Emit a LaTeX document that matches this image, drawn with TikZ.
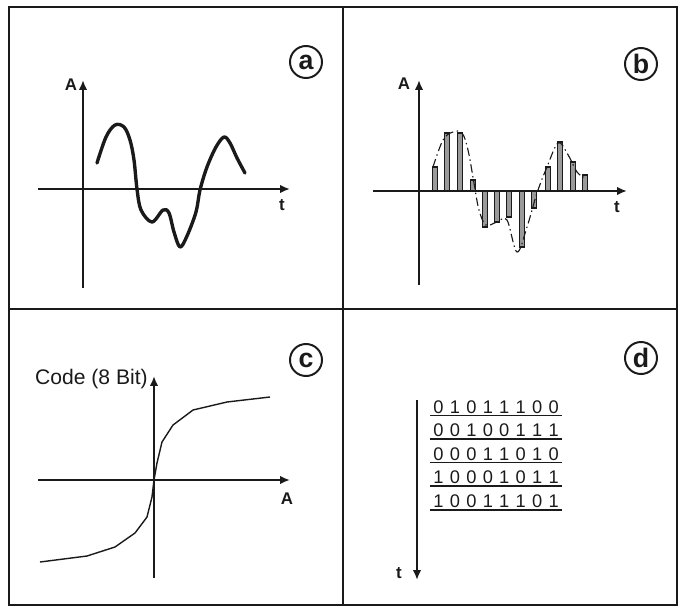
\documentclass[tikz,border=0pt]{standalone}
\usepackage{fontspec}
\setmainfont{Liberation Sans}
\usepackage{tikz}
\usetikzlibrary{arrows.meta,positioning,calc}
\definecolor{clInk}{HTML}{1A1A1A}
\definecolor{clBar}{HTML}{9A9A9A}
\tikzset{
  frame/.style={draw=clInk, line width=0.9pt},
  axis/.style={-{Latex[length=7pt,width=6pt]}, line width=2pt, draw=clInk},
  signal/.style={line width=2.4pt, draw=clInk, line join=round, line cap=round},
  envelope/.style={line width=0.8pt, draw=clInk, dash pattern=on 6pt off 2.5pt on 1pt off 2.5pt},
  sample/.style={draw=clInk, line width=0.8pt, fill=clBar},
  transfer/.style={line width=1pt, draw=clInk, line join=round},
  axislabel/.style={font=\bfseries\fontsize{12}{14}\selectfont, text=clInk, inner sep=0pt},
  tag/.style={circle, draw=clInk, line width=1.4pt, minimum size=0.8cm, inner sep=0pt,
              font=\bfseries\fontsize{19}{20}\selectfont, text=clInk},
  bitrow/.style={anchor=base west, inner sep=0pt, font=\fontsize{13}{15}\selectfont, text=clInk},
  uline/.style={line width=1.2pt, draw=clInk},
}

\begin{document}
\begin{tikzpicture}[x=0.025cm, y=-0.025cm]
  \useasboundingbox (0,0) rectangle (680,608);
  % panel frame
  \draw[frame] (9,7) rectangle (677,605);
  \draw[frame] (343,7) -- (343,605);
  \draw[frame] (9,309) -- (677,309);

  % (a) analog signal
  \draw[axis] (83,288) -- (83,80);
  \draw[axis] (38,189) -- (290,189);
  \node[axislabel] (aA) at (71,85) {A};
  \node[axislabel] (aT) at (282,205) {t};
  \node[tag] (tagA) at (306,62) {a};
  \draw[signal] plot[smooth, tension=0.55] coordinates {(97,163) (106,137) (115,125) (124,127) (130,140)
    (134,160) (137,189) (141,210) (152,222) (163,210) (169,213) (174,232) (180,247) (187,236)
    (196,212) (200,190) (207,167) (216,147) (224,137) (230,143) (237,158) (245,173)};

  % (b) sampled signal
  \draw[axis] (419,285) -- (419,80);
  \node[axislabel] (bA) at (404,84) {A};
  \node[axislabel] (bT) at (617,207) {t};
  \node[tag] (tagB) at (641,64) {b};
  \foreach \x/\h in {435/167,447/133,460/133,473/180,485/227,497/222,509/217,522/247,
                     534/208,548/167,560/142,573/162,585/175}
    \draw[sample] (\x-2.5,191) rectangle (\x+2.5,\h);
  \draw[axis] (373,191) -- (627,191);
  \draw[envelope] plot[smooth, tension=0.6] coordinates {(433,167) (443,140) (453,132) (462,133)
    (468,150) (474,183) (479,210) (486,225) (497,222) (507,220) (517,252) (527,227)
    (537,193) (547,167) (558,143) (567,153) (577,172) (584,177)};

  % (c) quantizer characteristic
  \draw[axis] (154,578) -- (154,376);
  \draw[axis] (38,480) -- (290,480);
  \node[anchor=east, inner sep=0pt, font=\fontsize{15}{17}\selectfont, text=clInk] (cCode) at (148,379) {Code (8 Bit)};
  \node[axislabel] (cA) at (287,499) {A};
  \node[tag] (tagC) at (306,360) {c};
  \draw[transfer] (40,562) -- (87,556) -- (115,547) -- (135,533) -- (147,517) -- (152,497)
    -- (154,480) -- (157,463) -- (162,442) -- (173,425) -- (193,410) -- (227,402) -- (270,397);

  % (d) code words over time
  \draw[axis] (417,400) -- (417,580);
  \node[axislabel] (dT) at (399,573) {t};
  \node[tag] (tagD) at (641,358) {d};
  \foreach \bits [count=\r] in {{0,1,0,1,1,1,0,0},{0,0,1,0,0,1,1,1},{0,0,0,1,1,0,1,0},
                                {1,0,0,0,1,0,1,1},{1,0,0,1,1,1,0,1}} {
    \node[bitrow] (row\r) at (430,389.5+23.6*\r) {\foreach \c in \bits {\makebox[11.7pt]{\c}}};
    \draw[uline] ([yshift=-1.6pt]row\r.base west) -- ([yshift=-1.6pt]row\r.base east);
  }
\end{tikzpicture}
\end{document}
